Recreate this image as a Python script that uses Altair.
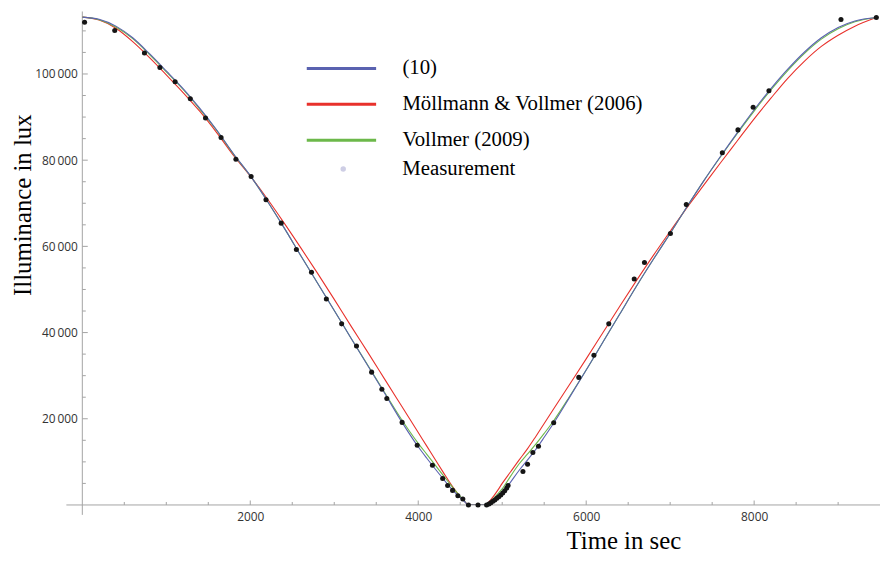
import altair as alt
import pandas as pd

# ---- data ----
T = [0, 200, 400, 600, 800, 1000, 1200, 1400, 1600, 1800, 2000, 2200, 2400, 2600, 2800,
     3000, 3200, 3400, 3600, 3800, 4000, 4100, 4200, 4300, 4400, 4500, 4550, 4600, 4700,
     4800, 4850, 4900, 4950, 5000, 5100, 5200, 5300, 5400, 5500, 5600, 5800, 6000, 6200,
     6400, 6600, 6800, 7000, 7200, 7400, 7600, 7800, 8000, 8200, 8400, 8600, 8800, 9000,
     9200, 9455]

L_EQ10 = [113200, 112700, 111100, 108400, 104700, 100700, 96600, 92000, 87000, 81500,
          76400, 70600, 64400, 57900, 51500, 45100, 38700, 32300, 25900, 19400, 13500,
          10900, 8400, 6000, 3700, 1700, 800, 0, 0, 0, 400, 1000, 1750, 2650, 5300, 8000,
          10400, 12900, 15700, 18600, 24900, 31300, 37800, 44300, 50800, 57000, 63000,
          69200, 75200, 80900, 86400, 91700, 96600, 101100, 105100, 108400, 110800,
          112300, 113100]

L_MV2006 = [113200, 112500, 110600, 107500, 103800, 99800, 95700, 91300, 86400, 81100,
            76300, 71100, 65500, 59700, 53800, 47700, 41500, 35400, 29200, 23000, 16800,
            13700, 10600, 7500, 4500, 1900, 900, 0, 0, 0, 900, 2100, 3500, 5000, 7700,
            10400, 13000, 15900, 18900, 21900, 27900, 33900, 40000, 46100, 52100, 57900,
            63500, 69000, 74200, 79400, 84500, 89600, 94400, 99000, 103000, 106400,
            109000, 111100, 113100]

L_V2009 = [113200, 112600, 110900, 108200, 104500, 100500, 96400, 91800, 86900, 81400,
           76400, 70600, 64400, 57900, 51500, 45100, 38700, 32400, 26100, 19900, 14300,
           11800, 9300, 6800, 4300, 2000, 900, 0, 0, 0, 650, 1600, 2650, 3750, 6700, 9500,
           11800, 14100, 16600, 19200, 25100, 31300, 37800, 44300, 50800, 57000, 63000,
           69200, 75200, 80800, 86200, 91400, 96300, 100800, 104800, 108100, 110500,
           112100, 113100]

MEAS_T = [27, 386, 740, 924, 1105, 1286, 1467, 1652, 1829, 2010, 2187, 2368, 2549, 2729,
          2906, 3088, 3265, 3445, 3567, 3626, 3808, 3988, 4169, 4291, 4350, 4409, 4472,
          4531, 4598, 4712, 4814, 4842, 4865, 4889, 4912, 4936, 4959, 4983, 5006, 5030,
          5054, 5070, 5247, 5302, 5365, 5432, 5613, 5912, 6092, 6269, 6572, 6694, 7003,
          7192, 7621, 7807, 7988, 8176, 9034, 9455]
MEAS_L = [112000, 110100, 104870, 101500, 98200, 94230, 89770, 85260, 80200, 76200, 70840,
          65390, 59270, 53980, 47770, 42020, 36870, 30820, 26840, 24680, 19160, 13870,
          9200, 6140, 4530, 3380, 2140, 1380, 0, 0, 0, 230, 530, 850, 1150, 1540, 1910,
          2300, 2760, 3290, 3910, 4530, 7750, 9430, 12190, 13640, 19090, 29600, 34730,
          42020, 52440, 56280, 63000, 69690, 81720, 87030, 92280, 96110, 112630, 113090]

SERIES = ["(10)", "Möllmann & Vollmer (2006)", "Vollmer (2009)"]
COLORS = ["#5a62b0", "#e8312b", "#6cb84a"]
MEAS_NAME = ["Measurement"]
MEAS_LEGEND_COLOR = ["#b9b9da"]

X_MAJOR = [2000, 4000, 6000, 8000]
X_MINOR = [500, 1000, 1500, 2500, 3000, 3500, 4500, 5000, 5500, 6500, 7000, 7500, 8500, 9000]
Y_MAJOR = [20000, 40000, 60000, 80000, 100000]
Y_MINOR = [5000, 10000, 15000, 25000, 30000, 35000, 45000, 50000, 55000, 65000, 70000,
           75000, 85000, 90000, 95000, 105000, 110000]
X_DOMAIN = [0, 9475]
Y_DOMAIN = [0, 114500]
X_AXIS_EXTENT = [-190, 9500]
Y_AXIS_EXTENT = [-2300, 114500]

# ---- tables ----
curves = pd.concat([
    pd.DataFrame({"t": T, "L": L_MV2006, "series": SERIES[1]}),
    pd.DataFrame({"t": T, "L": L_V2009, "series": SERIES[2]}),
    pd.DataFrame({"t": T, "L": L_EQ10, "series": SERIES[0]}),
], ignore_index=True)
meas = pd.DataFrame({"t": MEAS_T, "L": MEAS_L, "kind": MEAS_NAME[0]})

W, H = 803, 498
AX = "#a3a3a3"
SERIF = "Liberation Serif"
SANS = "Open Sans"

xs = alt.Scale(domain=X_DOMAIN, nice=False, zero=False)
ys = alt.Scale(domain=Y_DOMAIN, nice=False, zero=False)

x_axis = alt.Axis(values=X_MAJOR, format="d", title="Time in sec", domain=False, ticks=False,
                  grid=False, labelFont=SANS, labelFontSize=12, labelColor="#333333",
                  labelPadding=7,
                  titleFont=SERIF, titleFontSize=25, titleFontWeight="normal",
                  titleColor="black", titleAnchor="start", titleAlign="center",
                  titleX=546, titleY=44, titleBaseline="alphabetic")
y_axis = alt.Axis(values=Y_MAJOR, title="Illuminance in lux", domain=False, ticks=False,
                  grid=False, labelFont=SANS, labelFontSize=12, labelColor="#333333",
                  labelPadding=5,
                  labelExpr="replace(format(datum.value, ','), ',', '\u2009')",
                  titleFont=SERIF, titleFontSize=25, titleFontWeight="normal",
                  titleColor="black", titleAngle=270, titleAlign="center",
                  titleBaseline="alphabetic", titleX=-52.5, titleY=195)

X = alt.X("t:Q", scale=xs, axis=x_axis)
Y = alt.Y("L:Q", scale=ys, axis=y_axis)

color = alt.Color(
    "series:N",
    scale=alt.Scale(domain=SERIES, range=COLORS),
    legend=alt.Legend(title=None, orient="none", legendX=224, legendY=47,
                      direction="vertical", symbolType="stroke", symbolSize=4900,
                      symbolStrokeWidth=3, clipHeight=21, rowPadding=14.2,
                      labelFont=SERIF, labelFontSize=21, labelColor="black",
                      labelOffset=25, symbolOffset=1, padding=0, labelLimit=0),
)

base_curves = alt.Chart(curves)
layers = []
for s in [SERIES[1], SERIES[2], SERIES[0]]:
    layers.append(
        base_curves.transform_filter(alt.datum.series == s)
        .mark_line(strokeWidth=1.1, interpolate="monotone", clip=True)
        .encode(x=X, y=Y, color=color)
    )

points = alt.Chart(meas).mark_point(filled=True, size=26, color="#151515", opacity=1).encode(
    x=X, y=Y)

# legend-only layer for the measurement entry (no rows drawn)
meas_legend = alt.Chart(meas).transform_filter("false").mark_point(filled=True, size=26).encode(
    x=X, y=Y,
    fill=alt.Fill("kind:N", scale=alt.Scale(domain=MEAS_NAME, range=MEAS_LEGEND_COLOR),
                  legend=alt.Legend(title=None, orient="none", legendX=224, legendY=148.5,
                                    symbolType="circle", symbolSize=30,
                                    symbolStrokeWidth=0,
                                    clipHeight=21, labelFont=SERIF, labelFontSize=21,
                                    labelColor="black", labelOffset=49,
                                    symbolOffset=28.8, padding=0, labelLimit=0)),
)

# axis lines (crossing at the origin) and inward ticks
xline = alt.Chart(pd.DataFrame({"a": [X_AXIS_EXTENT[0]], "b": [X_AXIS_EXTENT[1]]})).mark_rule(
    color=AX, strokeWidth=1).encode(x=alt.X("a:Q", scale=xs, axis=x_axis), x2="b:Q",
                                    y=alt.datum(0))
yline = alt.Chart(pd.DataFrame({"a": [Y_AXIS_EXTENT[0]], "b": [Y_AXIS_EXTENT[1]]})).mark_rule(
    color=AX, strokeWidth=1).encode(y=alt.Y("a:Q", scale=ys, axis=y_axis), y2="b:Q",
                                    x=alt.datum(0))

xt_major = alt.Chart(pd.DataFrame({"t": X_MAJOR})).mark_rule(color=AX).encode(
    x=X, y=alt.value(H), y2=alt.value(H - 4.5))
xt_minor = alt.Chart(pd.DataFrame({"t": X_MINOR})).mark_rule(color=AX).encode(
    x=X, y=alt.value(H), y2=alt.value(H - 3))
yt_major = alt.Chart(pd.DataFrame({"L": Y_MAJOR})).mark_rule(color=AX).encode(
    y=Y, x=alt.value(0), x2=alt.value(5.5))
yt_minor = alt.Chart(pd.DataFrame({"L": Y_MINOR})).mark_rule(color=AX).encode(
    y=Y, x=alt.value(0), x2=alt.value(3.5))

chart = alt.layer(
    xline, yline, xt_major, xt_minor, yt_major, yt_minor, *layers, points, meas_legend
).properties(
    width=W, height=H,
    autosize=alt.AutoSizeParams(type="none"),
    padding={"left": 75, "top": 1, "right": 2, "bottom": 50},
    background="white",
).configure_view(stroke=None)

chart.save("out.html", embed_options={"renderer": "svg", "actions": False})
